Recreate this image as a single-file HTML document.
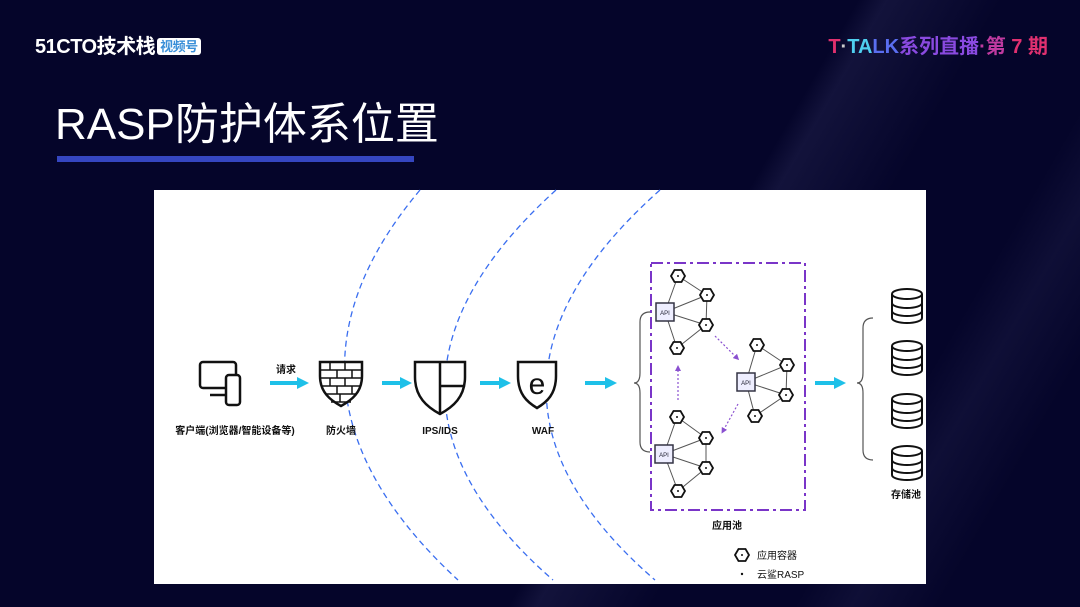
<!DOCTYPE html>
<html><head><meta charset="utf-8"><style>
body{margin:0;width:1080px;height:607px;overflow:hidden;background:#05052a;font-family:"Liberation Sans","Noto Sans CJK SC",sans-serif;position:relative}
.bg{position:absolute;inset:0;background:linear-gradient(120deg,transparent 0 60%,rgba(60,60,110,0.25) 62%,transparent 70%,transparent 80%,rgba(60,60,110,0.18) 84%,transparent 90%)}
.logo{position:absolute;left:35px;top:30px;color:#fff;font-weight:bold;font-size:20px;letter-spacing:-0.5px}
.logo span{background:#fff;color:#3a8fd8;font-size:13px;padding:1px 3px;border-radius:3px;margin-left:2px;vertical-align:2px}
.tt{position:absolute;right:32px;top:30px;font-size:20px;font-weight:bold}
h1{position:absolute;left:55px;top:88px;margin:0;color:#fff;font-weight:normal;font-size:44px}
.bar{position:absolute;left:57px;top:156px;width:357px;height:6px;background:#3546c0}
.panel{position:absolute;left:154px;top:190px;width:772px;height:394px;background:#fff}
</style></head><body>
<div class="bg"></div>
<div class="logo">51CTO技术栈<span>视频号</span></div>
<div class="tt"><span style="color:#e0306e">T</span><span style="color:#ccc">·</span><span style="color:#4fd0f0">TA</span><span style="color:#5a6ef0">LK</span><span style="color:#8a4ae0">系列直播</span><span style="color:#c03aa0">·第</span><span style="color:#e03070"> 7 期</span></div>
<h1>RASP防护体系位置</h1>
<div class="bar"></div>
<div class="panel"></div>
<svg width="1080" height="607" style="position:absolute;left:0;top:0" font-family="Liberation Sans, Noto Sans CJK SC, sans-serif">
<defs>
<g id="hx"><polygon points="-7,0 -3.5,-6 3.5,-6 7,0 3.5,6 -3.5,6" fill="#fff" stroke="#111" stroke-width="1.8"/><circle r="1" fill="#111"/></g>
<g id="api"><rect x="-9" y="-9" width="18" height="18" fill="#eef" stroke="#334" stroke-width="1.5"/><text y="3" font-size="6" text-anchor="middle" fill="#223">API</text></g>
<g id="db"><g fill="#fff" stroke="#111" stroke-width="2"><path d="M-15,-12 v24 a15,5 0 0 0 30,0 v-24"/><ellipse cx="0" cy="-12" rx="15" ry="5"/><path d="M-15,-3 a15,5 0 0 0 30,0 M-15,5 a15,5 0 0 0 30,0"/></g></g>
<marker id="ar" viewBox="0 0 10 10" refX="5" refY="5" markerWidth="3" markerHeight="3" orient="auto"><path d="M0,0L10,5L0,10z" fill="#1ec0e8"/></marker>
<marker id="pa" viewBox="0 0 10 10" refX="5" refY="5" markerWidth="5" markerHeight="5" orient="auto"><path d="M0,0L10,5L0,10z" fill="#8a50d0"/></marker>
</defs>
<g fill="none" stroke="#3a6ef0" stroke-width="1.3" stroke-dasharray="6,4">
<path d="M420,190 Q252,390 458,580"/>
<path d="M556,190 Q335,390 553,580"/>
<path d="M660,190 Q435,390 655,580"/>
</g>
<g stroke="#1ec0e8" stroke-width="4" marker-end="url(#ar)">
<line x1="270" y1="383" x2="303" y2="383"/><line x1="382" y1="383" x2="406" y2="383"/><line x1="480" y1="383" x2="505" y2="383"/><line x1="585" y1="383" x2="611" y2="383"/><line x1="815" y1="383" x2="840" y2="383"/>
</g>
<g fill="none" stroke="#111" stroke-width="2.5"><rect x="200" y="362" width="36" height="26" rx="3"/><line x1="210" y1="395" x2="226" y2="395"/><rect x="226" y="375" width="14" height="30" rx="3" fill="#fff"/></g>
<g fill="#fff" stroke="#111" stroke-width="2.5"><path d="M320,362 h42 v14 c0,16 -10,24 -21,30 c-11,-6 -21,-14 -21,-30z"/><path d="M320,370h42M320,378h42M321,386h40M325,394h32M331,402h20M330,362v8M345,362v8M337,370v8M352,370v8M330,378v8M345,378v8M337,386v8M352,386v8M340,394v8" stroke-width="1.5"/></g>
<g fill="#fff" stroke="#111" stroke-width="2.5"><path d="M415,362 h50 v15 c0,20 -12,30 -25,37 c-13,-7 -25,-17 -25,-37z"/><path d="M440,362v52M440,386h25"/></g>
<g fill="#fff" stroke="#111" stroke-width="2.5"><path d="M518,362 h38 v14 c0,18 -9,26 -19,32 c-10,-6 -19,-14 -19,-32z"/></g>
<text x="537" y="394" font-size="30" text-anchor="middle" fill="#111">e</text>
<g font-size="10" fill="#111" text-anchor="middle" font-weight="bold">
<text x="286" y="373">请求</text><text x="235" y="434">客户端(浏览器/智能设备等)</text><text x="341" y="434">防火墙</text><text x="440" y="434">IPS/IDS</text><text x="543" y="434">WAF</text><text x="727" y="529">应用池</text><text x="906" y="498">存储池</text>
</g>
<g fill="none" stroke="#555" stroke-width="1.2">
<path d="M650,312 q-10,0 -10,10 v51 q0,10 -6,10 q6,0 6,10 v49 q0,10 10,10"/>
<path d="M873,318 q-10,0 -10,10 v45 q0,10 -6,10 q6,0 6,10 v57 q0,10 10,10"/>
</g>
<rect x="651" y="263" width="154" height="247" fill="none" stroke="#7a35c8" stroke-width="2" stroke-dasharray="12,4,3,4"/>
<g stroke="#555" stroke-width="1">
<path d="M665,312L678,276M665,312L707,295M665,312L706,325M665,312L677,348M678,276L707,295M707,295L706,325M706,325L677,348"/>
<path d="M746,382L757,345M746,382L787,365M746,382L786,395M746,382L755,416M757,345L787,365M787,365L786,395M786,395L755,416"/>
<path d="M664,454L677,417M664,454L706,438M664,454L706,468M664,454L678,491M677,417L706,438M706,438L706,468M706,468L678,491"/>
</g>
<g stroke="#8a50d0" stroke-width="1.2" stroke-dasharray="2,2" marker-end="url(#pa)">
<line x1="715" y1="336" x2="737" y2="358"/><line x1="738" y1="404" x2="723" y2="431"/><line x1="678" y1="400" x2="678" y2="368"/>
</g>
<use href="#api" x="665" y="312"/><use href="#api" x="746" y="382"/><use href="#api" x="664" y="454"/>
<use href="#hx" x="678" y="276"/><use href="#hx" x="707" y="295"/><use href="#hx" x="706" y="325"/><use href="#hx" x="677" y="348"/>
<use href="#hx" x="757" y="345"/><use href="#hx" x="787" y="365"/><use href="#hx" x="786" y="395"/><use href="#hx" x="755" y="416"/>
<use href="#hx" x="677" y="417"/><use href="#hx" x="706" y="438"/><use href="#hx" x="706" y="468"/><use href="#hx" x="678" y="491"/>
<use href="#db" x="907" y="306"/><use href="#db" x="907" y="358"/><use href="#db" x="907" y="411"/><use href="#db" x="907" y="463"/>
<use href="#hx" x="742" y="555"/><circle cx="742" cy="574" r="1.2" fill="#111"/>
<text x="757" y="559" font-size="10" fill="#111">应用容器</text><text x="757" y="578" font-size="10" fill="#111">云鲨RASP</text>
</svg>
</body></html>
